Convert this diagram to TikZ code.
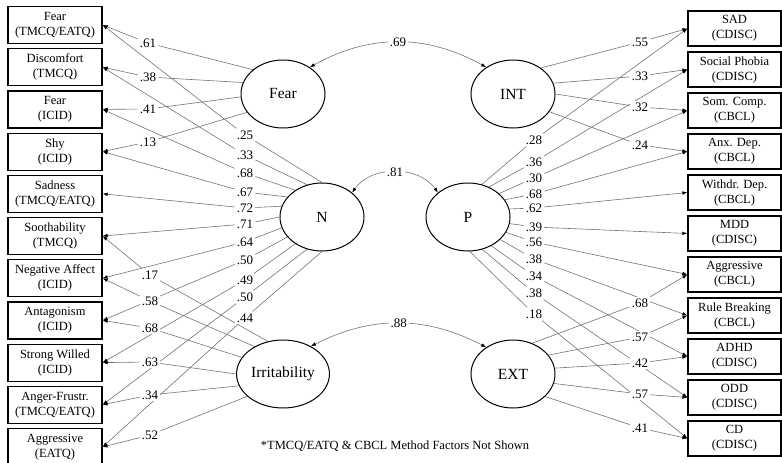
\documentclass[tikz,border=0pt]{standalone}
\usepackage{fontspec}
\setmainfont{Liberation Serif}
\usetikzlibrary{arrows.meta, shapes.geometric, backgrounds}

\begin{document}
\begin{tikzpicture}[x=1pt, y=-1pt, -{Latex[length=5pt, width=3.6pt, color=black]},
    ind/.style={draw, line width=1.2pt, fill=white, minimum width=94pt, minimum height=37pt,
        align=center, inner sep=1pt, font=\fontsize{12.5}{15}\selectfont},
    outc/.style={ind, minimum width=93pt, minimum height=35pt},
    fac/.style={ellipse, draw, line width=1pt, fill=white, minimum width=84pt, minimum height=68pt,
        inner sep=1pt, font=\fontsize{15.5}{18}\selectfont},
    ld/.style={fill=white, inner sep=2pt, font=\fontsize{13}{15}\selectfont},
    load/.style={draw=black!55, line width=0.6pt},
    corr/.style={{Latex[length=5pt, width=3.6pt, color=black]}-{Latex[length=5pt, width=3.6pt, color=black]},
        draw=black!55, line width=0.6pt}]
    \useasboundingbox (0,0) rectangle (782,463);

    % indicators, left
    \node[ind] (l1) at (55,25) {Fear\\(TMCQ/EATQ)};
    \node[ind] (l2) at (55,67.2) {Discomfort\\(TMCQ)};
    \node[ind] (l3) at (55,109.4) {Fear\\(ICID)};
    \node[ind] (l4) at (55,151.6) {Shy\\(ICID)};
    \node[ind] (l5) at (55,193.8) {Sadness\\(TMCQ/EATQ)};
    \node[ind] (l6) at (55,236) {Soothability\\(TMCQ)};
    \node[ind] (l7) at (55,278.2) {Negative Affect\\(ICID)};
    \node[ind] (l8) at (55,320.4) {Antagonism\\(ICID)};
    \node[ind] (l9) at (55,362.6) {Strong Willed\\(ICID)};
    \node[ind] (l10) at (55,404.8) {Anger-Frustr.\\(TMCQ/EATQ)};
    \node[ind] (l11) at (55,447) {Aggressive\\(EATQ)};

    % indicators, right
    \node[outc] (r1) at (734.5,28.5) {SAD\\(CDISC)};
    \node[outc] (r2) at (734.5,69.5) {Social Phobia\\(CDISC)};
    \node[outc] (r3) at (734.5,110.5) {Som. Comp.\\(CBCL)};
    \node[outc] (r4) at (734.5,151.5) {Anx. Dep.\\(CBCL)};
    \node[outc] (r5) at (734.5,192.5) {Withdr. Dep.\\(CBCL)};
    \node[outc] (r6) at (734.5,233.5) {MDD\\(CDISC)};
    \node[outc] (r7) at (734.5,274.5) {Aggressive\\(CBCL)};
    \node[outc] (r8) at (734.5,315.5) {Rule Breaking\\(CBCL)};
    \node[outc] (r9) at (734.5,356.5) {ADHD\\(CDISC)};
    \node[outc] (r10) at (734.5,397.5) {ODD\\(CDISC)};
    \node[outc] (r11) at (734.5,438.5) {CD\\(CDISC)};

    % latent factors
    \node[fac] (Fear) at (283,94) {Fear};
    \node[fac] (N) at (322,217) {N};
    \node[fac] (Irr) at (283,374) {Irritability};
    \node[fac] (INT) at (513,94) {INT};
    \node[fac] (P) at (468,217) {P};
    \node[fac] (EXT) at (513,374) {EXT};

    % loadings
    \foreach \a/\y/\v/\b in {141/43/.61/1, 164/77/.38/2, 184/109/.41/3, 207/142/.13/4}{
        \node[ld] (fl\b) at (148,\y) {\v};
        \begin{pgfonlayer}{background}
            \draw[load] (Fear.\a) -- (fl\b) -- (l\b.east);
        \end{pgfonlayer}
    }
    \foreach \a/\y/\v/\b in {90/135/.25/1, 115/155/.33/2, 135/173/.68/3, 150/192/.67/4,
        165/208/.72/5, 180/224/.71/6, 195/242/.64/7, 210/260/.50/8, 225/280/.49/9,
        245/297/.50/10, 270/318/.44/11}{
        \node[ld] (nl\b) at (245,\y) {\v};
        \begin{pgfonlayer}{background}
            \draw[load] (N.\a) -- (nl\b) -- (l\b.east);
        \end{pgfonlayer}
    }
    \foreach \a/\y/\v/\b in {115/275/.17/6, 136/301/.58/7, 158/328/.68/8, 180/362/.63/9,
        195/395/.34/10, 212/435/.52/11}{
        \node[ld] (il\b) at (150,\y) {\v};
        \begin{pgfonlayer}{background}
            \draw[load] (Irr.\a) -- (il\b) -- (l\b.east);
        \end{pgfonlayer}
    }
    \foreach \a/\y/\v/\b in {43/42/.55/1, 15/76/.33/2, 0/107/.32/3, -26/145/.24/4}{
        \node[ld] (tl\b) at (640,\y) {\v};
        \begin{pgfonlayer}{background}
            \draw[load] (INT.\a) -- (tl\b) -- (r\b.west);
        \end{pgfonlayer}
    }
    \foreach \a/\y/\v/\b in {67/140/.28/1, 55/162/.36/2, 37/178/.30/3, 25/194/.68/4,
        11/208/.62/5, -9/227/.39/6, -22/242/.56/7, -35/259/.38/8, -51/276/.34/9,
        -66/293/.38/10, -87/314/.18/11}{
        \node[ld] (pl\b) at (534,\y) {\v};
        \begin{pgfonlayer}{background}
            \draw[load] (P.\a) -- (pl\b) -- (r\b.west);
        \end{pgfonlayer}
    }
    \foreach \a/\y/\v/\b in {58/303/.68/7, 28/337/.57/8, 8/363/.42/9, -13/394/.57/10,
        -35/428/.41/11}{
        \node[ld] (el\b) at (640,\y) {\v};
        \begin{pgfonlayer}{background}
            \draw[load] (EXT.\a) -- (el\b) -- (r\b.west);
        \end{pgfonlayer}
    }

    % correlations
    \draw[corr] (Fear.45) to[bend left=29] node[ld] {.69} (INT.135);
    \draw[corr] (N.39) to[bend left=55] node[ld] {.81} (P.141);
    \draw[corr] (Irr.45) to[bend left=27] node[ld] {.88} (EXT.135);

    \node[font=\fontsize{12.5}{15}\selectfont] (note) at (395,446)
        {*TMCQ/EATQ \& CBCL Method Factors Not Shown};
\end{tikzpicture}
\end{document}
